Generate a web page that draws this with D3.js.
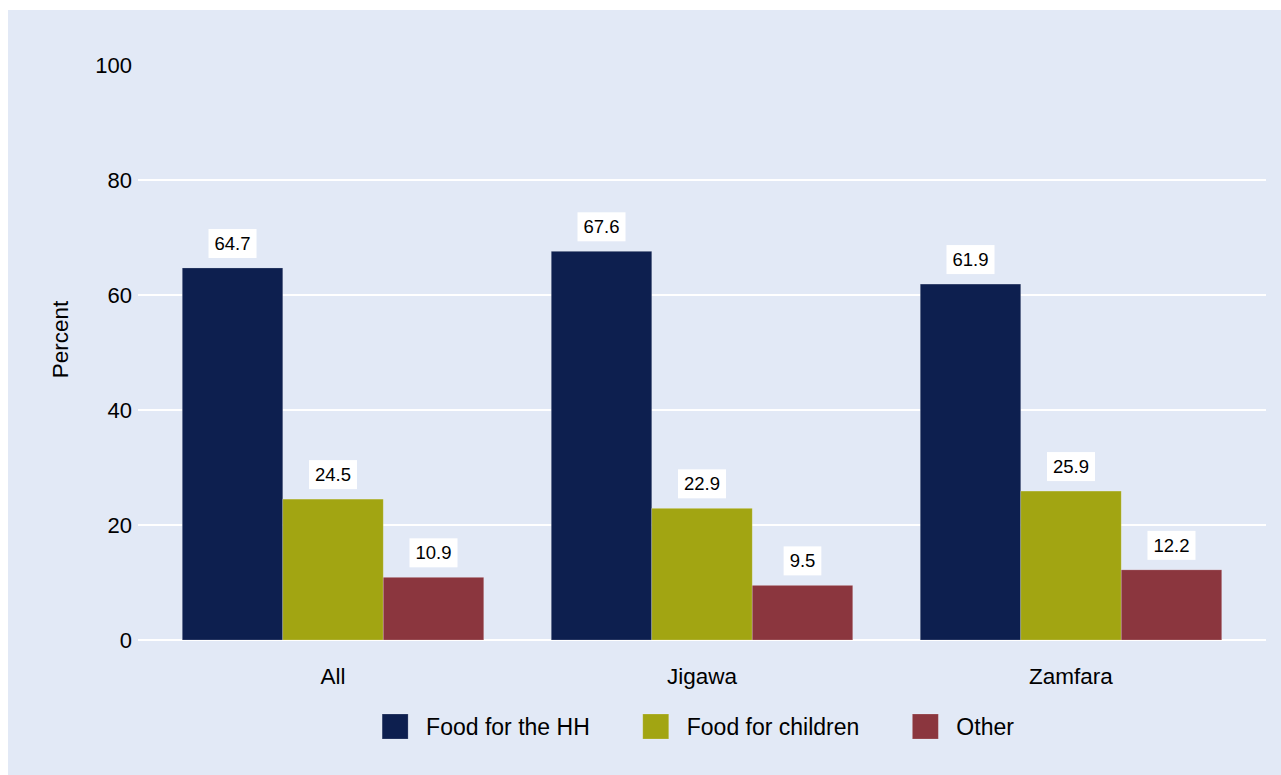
<!DOCTYPE html>
<html>
<head>
<meta charset="utf-8">
<script src="https://cdn.jsdelivr.net/npm/d3@7"></script>
<style>
  html, body { margin: 0; padding: 0; background: #ffffff; }
  svg { display: block; font-family: "Liberation Sans", Arial, Helvetica, sans-serif; }
</style>
</head>
<body>
<svg id="chart" width="1281" height="775"></svg>
<script>
const groups = ["All", "Jigawa", "Zamfara"];
const seriesNames = ["Food for the HH", "Food for children", "Other"];
const foodHH = [64.7, 67.6, 61.9];
const foodChildren = [24.5, 22.9, 25.9];
const other = [10.9, 9.5, 12.2];
const yTicks = [0, 20, 40, 60, 80, 100];
const gridTicks = [0, 20, 40, 60, 80];
const colors = ["#0d1f4f", "#a2a512", "#8b363e"];

const seriesValues = [foodHH, foodChildren, other];
const data = groups.map((g, gi) => ({
  group: g,
  values: seriesNames.map((s, si) => ({ series: s, value: seriesValues[si][gi], idx: si }))
}));

const W = 1281, H = 775;
const svg = d3.select("#chart");

// background panel
svg.append("rect").attr("x", 8).attr("y", 10).attr("width", W - 8).attr("height", H - 10).attr("fill", "#e2e9f6");

const plotLeft = 138, plotRight = 1266;
const y = d3.scaleLinear().domain([0, 100]).range([640, 65]);
const x0 = d3.scaleBand().domain(groups).range([plotLeft, plotRight]).paddingInner(0.183).paddingOuter(0.12);
const x1 = d3.scaleBand().domain(seriesNames).range([0, x0.bandwidth()]).padding(0);
const color = d3.scaleOrdinal().domain(seriesNames).range(colors);

// gridlines
svg.append("g").selectAll("line").data(gridTicks).join("line")
  .attr("x1", plotLeft).attr("x2", plotRight)
  .attr("y1", d => y(d)).attr("y2", d => y(d))
  .attr("stroke", "#ffffff").attr("stroke-width", 2);

// y axis labels
const yAxis = d3.axisLeft(y).tickValues(yTicks).tickSize(0).tickPadding(0);
const yg = svg.append("g").attr("transform", `translate(${plotLeft - 6},0)`).call(yAxis);
yg.select(".domain").remove();
yg.selectAll("text").attr("font-size", 22).attr("fill", "#000").attr("font-family", "Liberation Sans, Arial, sans-serif").attr("dy", "0.36em");

svg.append("text")
  .attr("transform", `translate(68,${(y(0) + y(100)) / 2 - 13}) rotate(-90)`)
  .attr("text-anchor", "middle").attr("font-size", 22.5).attr("fill", "#000")
  .text("Percent");

// bars
const gGroups = svg.append("g").selectAll("g").data(data).join("g")
  .attr("transform", d => `translate(${x0(d.group)},0)`);

gGroups.selectAll("rect").data(d => d.values).join("rect")
  .attr("x", d => x1(d.series))
  .attr("width", x1.bandwidth())
  .attr("y", d => y(d.value))
  .attr("height", d => y(0) - y(d.value))
  .attr("fill", d => color(d.series))
  .attr("stroke", "rgba(255,255,255,0.25)").attr("stroke-width", 0.8);

// value labels
gGroups.each(function(d) {
  const g = d3.select(this);
  d.values.forEach(v => {
    const cx = x1(v.series) + x1.bandwidth() / 2;
    const boxBottom = y(v.value) - 10;
    const boxH = 29;
    const lab = g.append("g");
    const rect = lab.append("rect").attr("fill", "#ffffff");
    const t = lab.append("text")
      .attr("x", cx).attr("y", boxBottom - boxH / 2 + 6.5)
      .attr("text-anchor", "middle").attr("font-size", 18.5).attr("fill", "#000")
      .text(d3.format(".1f")(v.value));
    const tw = t.node().getComputedTextLength();
    const bw = tw + 12;
    rect.attr("x", cx - bw / 2).attr("y", boxBottom - boxH).attr("width", bw).attr("height", boxH);
  });
});

// category labels
svg.append("g").selectAll("text").data(groups).join("text")
  .attr("x", d => x0(d) + x0.bandwidth() / 2)
  .attr("y", 684)
  .attr("text-anchor", "middle").attr("font-size", 22.5).attr("fill", "#000")
  .text(d => d);

// legend
const legend = svg.append("g");
const sq = 26, gapText = 18, gapItem = 53;
let cursor = 0;
const items = seriesNames.map(s => {
  const it = legend.append("g");
  it.append("rect").attr("x", cursor).attr("y", 714).attr("width", sq).attr("height", 25)
    .attr("fill", color(s)).attr("stroke", "rgba(255,255,255,0.25)").attr("stroke-width", 0.8);
  const t = it.append("text").attr("x", cursor + sq + gapText).attr("y", 735)
    .attr("font-size", 23).attr("fill", "#000").text(s);
  cursor += sq + gapText + t.node().getComputedTextLength() + gapItem;
  return it;
});
const legendW = cursor - gapItem;
const legendCenter = (plotLeft + plotRight) / 2 - 4;
legend.attr("transform", `translate(${legendCenter - legendW / 2},0)`);
</script>
</body>
</html>
